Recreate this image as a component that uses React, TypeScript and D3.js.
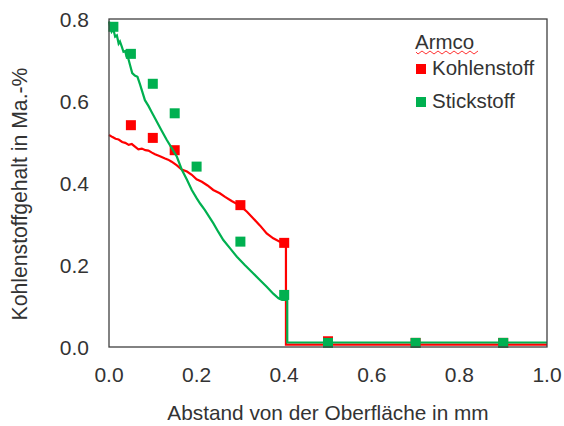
import React from "react";
import * as d3 from "d3";

const xTicks = [0, 0.2, 0.4, 0.6, 0.8, 1.0];
const yTicks = [0, 0.2, 0.4, 0.6, 0.8];

// Measured Kohlenstoff (C) points
const cMarkX = [0.05, 0.1, 0.15, 0.3, 0.4, 0.5, 0.7, 0.9];
const cMarkY = [0.541, 0.51, 0.48, 0.346, 0.254, 0.014, 0.01, 0.01];
// Measured Stickstoff (N) points
const nMarkX = [0.01, 0.05, 0.1, 0.15, 0.2, 0.3, 0.4, 0.5, 0.7, 0.9];
const nMarkY = [0.781, 0.715, 0.642, 0.57, 0.44, 0.257, 0.127, 0.01, 0.01, 0.01];

// Simulated Kohlenstoff profile
const cLineX = [0, 0.008, 0.015, 0.022, 0.03, 0.037, 0.045, 0.052, 0.06, 0.067, 0.075, 0.083, 0.09, 0.098, 0.105, 0.115, 0.128, 0.135, 0.143, 0.155, 0.166, 0.178, 0.189, 0.2, 0.212, 0.225, 0.238, 0.253, 0.265, 0.28, 0.299, 0.315, 0.329, 0.345, 0.36, 0.375, 0.39, 0.404, 0.404, 1.0];
const cLineY = [0.517, 0.512, 0.508, 0.506, 0.500, 0.498, 0.493, 0.495, 0.488, 0.482, 0.484, 0.480, 0.479, 0.474, 0.470, 0.466, 0.460, 0.457, 0.452, 0.443, 0.433, 0.428, 0.420, 0.409, 0.403, 0.394, 0.383, 0.375, 0.366, 0.356, 0.345, 0.330, 0.314, 0.296, 0.277, 0.265, 0.257, 0.253, 0.006, 0.006];

// Simulated Stickstoff profile
const nLineX = [0, 0.002, 0.006, 0.01, 0.014, 0.018, 0.022, 0.025, 0.029, 0.033, 0.037, 0.04, 0.044, 0.048, 0.053, 0.059, 0.065, 0.071, 0.082, 0.09, 0.097, 0.109, 0.12, 0.132, 0.144, 0.155, 0.166, 0.178, 0.189, 0.2, 0.208, 0.219, 0.238, 0.25, 0.261, 0.277, 0.292, 0.31, 0.329, 0.345, 0.36, 0.375, 0.387, 0.395, 0.407, 0.407, 1.0];
const nLineY = [0.794, 0.785, 0.769, 0.775, 0.757, 0.760, 0.740, 0.745, 0.733, 0.720, 0.722, 0.708, 0.704, 0.688, 0.668, 0.662, 0.659, 0.640, 0.602, 0.588, 0.574, 0.550, 0.528, 0.505, 0.484, 0.464, 0.433, 0.408, 0.383, 0.363, 0.350, 0.334, 0.302, 0.280, 0.261, 0.240, 0.220, 0.200, 0.180, 0.163, 0.147, 0.130, 0.119, 0.115, 0.115, 0.011, 0.011];

const RED = "#FF0000";
const GREEN = "#00B050";
const TEXT = "#333333";
const FONT = "'Liberation Sans', Arial, sans-serif";

export default function App() {
  const W = 564, H = 426;
  const L = 109, R = 547, T = 19, B = 347;
  const x = d3.scaleLinear().domain([0, 1]).range([L, R]);
  const y = d3.scaleLinear().domain([0, 0.8]).range([B, T]);
  const line = d3.line<[number, number]>().x(d => x(d[0])).y(d => y(d[1]));
  const cLine = cLineX.map((v, i) => [v, cLineY[i]] as [number, number]);
  const nLine = nLineX.map((v, i) => [v, nLineY[i]] as [number, number]);
  const ms = 10;

  // wavy underline under "Armco"
  let wave = "M416,52";
  for (let i = 0; i < 16; i++) {
    wave += ` L${418 + i * 4},${i % 2 === 0 ? 54 : 51}`;
  }

  return (
    <svg width={W} height={H} style={{ position: "absolute", left: 0, top: 0, background: "#fff" }} fontFamily={FONT}>
      <rect x={0} y={0} width={W} height={H} fill="#fff" />
      {/* series C */}
      <path d={line(cLine) || ""} fill="none" stroke={RED} strokeWidth={2.2} />
      {cMarkX.map((v, i) => (
        <rect key={"c" + i} x={x(v) - ms / 2} y={y(cMarkY[i]) - ms / 2} width={ms} height={ms} fill={RED} />
      ))}
      {/* series N */}
      <path d={line(nLine) || ""} fill="none" stroke={GREEN} strokeWidth={2.2} />
      {nMarkX.map((v, i) => (
        <rect key={"n" + i} x={x(v) - ms / 2} y={y(nMarkY[i]) - ms / 2} width={ms} height={ms} fill={GREEN} />
      ))}
      {/* frame */}
      <rect x={L} y={T} width={R - L} height={B - T} fill="none" stroke="#404040" strokeWidth={1.3} />
      {/* ticks */}
      {xTicks.map(t => (
        <text key={"xt" + t} x={x(t)} y={382} textAnchor="middle" fontSize={21} fill={TEXT}>{t.toFixed(1)}</text>
      ))}
      {yTicks.map(t => (
        <text key={"yt" + t} x={89} y={y(t) + 7.5} textAnchor="end" fontSize={21} fill={TEXT}>{t.toFixed(1)}</text>
      ))}
      <text x={(L + R) / 2} y={420} textAnchor="middle" fontSize={20.8} fill={TEXT}>Abstand von der Oberfläche in mm</text>
      <text transform="translate(27,194) rotate(-90)" textAnchor="middle" fontSize={21.2} fill={TEXT}>Kohlenstoffgehalt in Ma.-%</text>
      {/* legend */}
      <text x={415} y={49} fontSize={20.5} fill={TEXT}>Armco</text>
      <path d={wave} fill="none" stroke={RED} strokeWidth={0.8} />
      <rect x={416} y={64} width={10} height={10} fill={RED} />
      <text x={432} y={75} fontSize={20.5} fill={TEXT}>Kohlenstoff</text>
      <rect x={416} y={97} width={10} height={10} fill={GREEN} />
      <text x={432} y={108} fontSize={20.5} fill={TEXT}>Stickstoff</text>
    </svg>
  );
}
